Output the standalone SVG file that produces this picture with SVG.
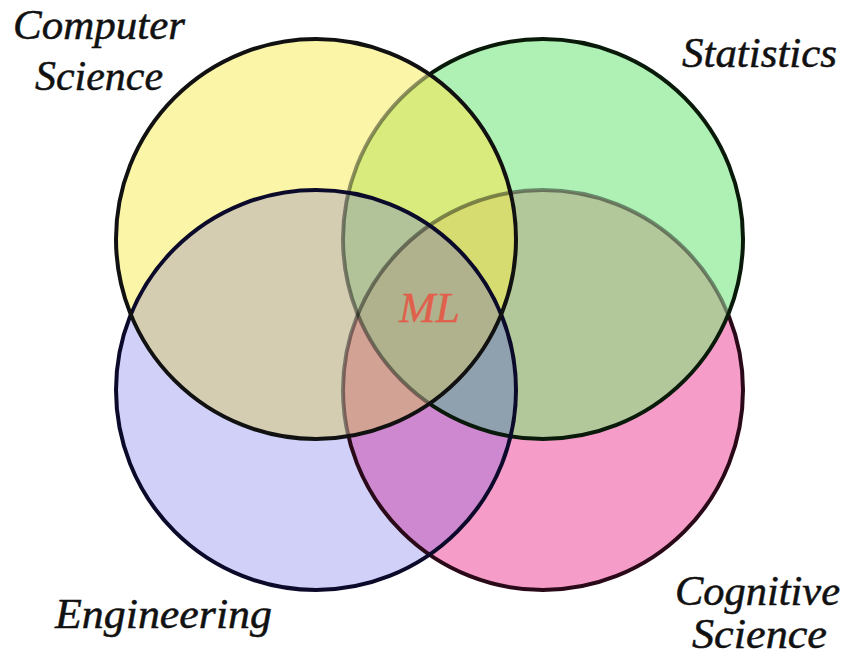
<svg xmlns="http://www.w3.org/2000/svg" width="848" height="658" viewBox="0 0 848 658">
<style>
.lbl{font-family:"Liberation Serif","Times New Roman",serif;font-style:italic;font-size:42px;fill:#111;stroke:#111;stroke-width:0.5}
.ml{font-family:"Liberation Serif","Times New Roman",serif;font-style:italic;font-size:42px;fill:#e0604c;stroke:#e0604c;stroke-width:0.4}
.ring{fill:none;stroke-width:4}
</style>
<defs>
<circle id="cy" cx="316" cy="239" r="200"/>
<circle id="cg" cx="543" cy="239" r="200"/>
<circle id="cb" cx="316" cy="390" r="200"/>
<circle id="cp" cx="543" cy="390" r="200"/>
<clipPath id="kY"><use href="#cy"/></clipPath>
<clipPath id="kG"><use href="#cg"/></clipPath>
<clipPath id="kB"><use href="#cb"/></clipPath>
<clipPath id="kP"><use href="#cp"/></clipPath>
<clipPath id="kYG"><use href="#cy"/><use href="#cg"/></clipPath>
<mask id="outY" maskUnits="userSpaceOnUse" x="0" y="0" width="848" height="658">
<rect width="848" height="658" fill="#fff"/><use href="#cy" fill="#000"/>
</mask>
<mask id="outYG" maskUnits="userSpaceOnUse" x="0" y="0" width="848" height="658">
<rect width="848" height="658" fill="#fff"/><use href="#cy" fill="#000"/><use href="#cg" fill="#000"/>
</mask>
</defs>
<rect width="848" height="658" fill="#fff"/>
<g id="fills">
<use href="#cy" fill="#fbf5a8"/>
<use href="#cg" fill="#aff0b5"/>
<use href="#cb" fill="#d1d0f8"/>
<use href="#cp" fill="#f59dc8"/>
</g>
<g id="overlaps">
<g clip-path="url(#kY)"><use href="#cg" fill="#d8eb7c"/><use href="#cb" fill="#d4cdb2"/><use href="#cp" fill="#c8b88a"/></g>
<g clip-path="url(#kG)"><use href="#cp" fill="#b2c89b"/><use href="#cb" fill="#a8b8a0"/></g>
<g clip-path="url(#kB)"><use href="#cp" fill="#cd88cf"/></g>
<g clip-path="url(#kY)"><g clip-path="url(#kG)"><use href="#cb" fill="#b2c39a"/><use href="#cp" fill="#d6dc70"/></g></g>
<g clip-path="url(#kY)"><g clip-path="url(#kB)"><use href="#cp" fill="#d2a295"/></g></g>
<g clip-path="url(#kG)"><g clip-path="url(#kB)"><use href="#cp" fill="#8fa1ae"/></g></g>
<g clip-path="url(#kY)"><g clip-path="url(#kG)"><g clip-path="url(#kB)"><use href="#cp" fill="#afb28c"/></g></g></g>
</g>
<g id="node-cognitive-science">
<use href="#cp" class="ring" stroke="#2a0a18" mask="url(#outYG)"/>
<g clip-path="url(#kYG)"><use href="#cp" class="ring" stroke="#000" stroke-opacity="0.42"/></g>
<text class="lbl" x="675" y="605" textLength="165" lengthAdjust="spacingAndGlyphs">Cognitive</text>
<text class="lbl" x="692" y="648" textLength="135" lengthAdjust="spacingAndGlyphs">Science</text>
</g>
<g id="node-statistics">
<use href="#cg" class="ring" stroke="#0a1a0a" mask="url(#outY)"/>
<g clip-path="url(#kY)"><use href="#cg" class="ring" stroke="#000" stroke-opacity="0.42"/></g>
<text class="lbl" x="682" y="67" textLength="155" lengthAdjust="spacingAndGlyphs">Statistics</text>
</g>
<g id="node-engineering">
<use href="#cb" class="ring" stroke="#0c0a2a"/>
<text class="lbl" x="55" y="628" textLength="217" lengthAdjust="spacingAndGlyphs">Engineering</text>
</g>
<g id="node-computer-science">
<use href="#cy" class="ring" stroke="#111"/>
<text class="lbl" x="13" y="39" textLength="172" lengthAdjust="spacingAndGlyphs">Computer</text>
<text class="lbl" x="35" y="90" textLength="128" lengthAdjust="spacingAndGlyphs">Science</text>
</g>
<g id="ml">
<text class="ml" x="399" y="322" textLength="61" lengthAdjust="spacingAndGlyphs">ML</text>
</g>
</svg>
